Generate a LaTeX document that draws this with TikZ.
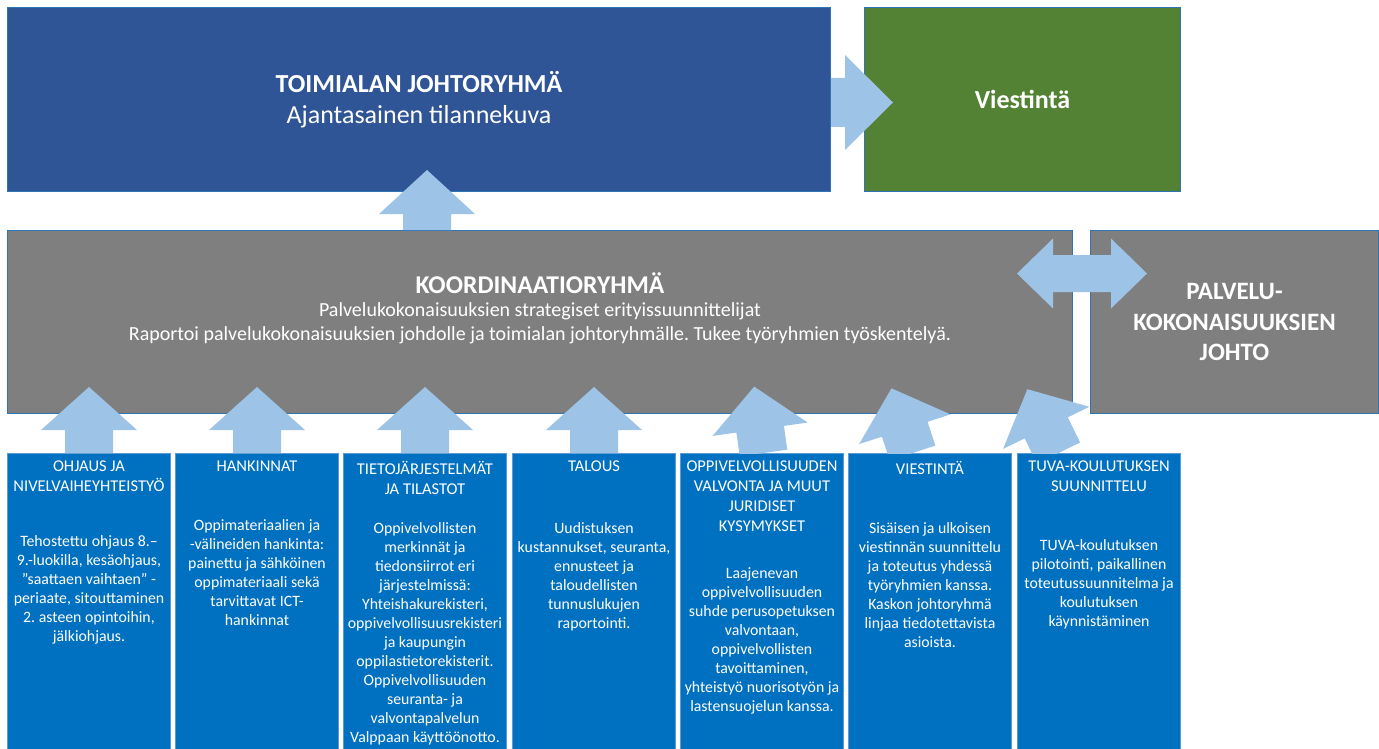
\documentclass[tikz,border=0pt]{standalone}
\usepackage{fontspec}
\setmainfont{Carlito}
\usetikzlibrary{positioning}
\frenchspacing

\definecolor{leadblue}{HTML}{2F5597}
\definecolor{commgreen}{HTML}{548235}
\definecolor{coordgray}{HTML}{7F7F7F}
\definecolor{teamblue}{HTML}{0070C0}
\definecolor{arrowblue}{HTML}{9DC3E6}
\definecolor{edgeblue}{HTML}{2E75B6}
\definecolor{teamedge}{HTML}{5B9BD5}

\tikzset{
  panel/.style={draw=edgeblue, line width=1pt, inner sep=0pt, anchor=north west,
    text=white, align=center},
  team/.style={panel, fill=teamblue, draw=teamedge, minimum width=163pt, minimum height=300pt},
  teamhead/.style={text=white, align=center, inner sep=0pt, anchor=north,
    font=\fontsize{16.5}{20}\selectfont},
  teamtext/.style={teamhead, font=\fontsize{15.8}{19}\selectfont},
}

% block arrow: #1 base, #2 angle, #3 length, #4 head length, #5 shaft width, #6 head width
\newcommand\blockarrow[6]{%
  \fill[arrowblue, shift={(#1)}, rotate=#2]
    (0,{-#5/2}) -- ({#3-#4},{-#5/2}) -- ({#3-#4},{-#6/2}) -- (#3,0)
    -- ({#3-#4},{#6/2}) -- ({#3-#4},{#5/2}) -- (0,{#5/2}) -- cycle;}

\begin{document}
\begin{tikzpicture}[x=1pt, y=-1pt]
  \clip (0,0) rectangle (1379,749);

  % upper row
  \node[panel, fill=leadblue, minimum width=823pt, minimum height=184pt,
    font=\fontsize{26}{31}\selectfont] (lead) at (7,7)
    {\textbf{TOIMIALAN JOHTORYHMÄ}\\Ajantasainen tilannekuva};
  \node[panel, fill=commgreen, minimum width=316pt, minimum height=184pt,
    font=\bfseries\fontsize{26}{30}\selectfont] (comm) at (864,7) {Viestintä};

  % middle row
  \node[panel, fill=coordgray, minimum width=1065pt, minimum height=183pt] (koord) at (7,230) {};
  \node[text=white, inner sep=0pt, font=\bfseries\fontsize{25.6}{30}\selectfont]
    (koordhead) at ([yshift=39pt]koord.center) {KOORDINAATIORYHMÄ};
  \node[text=white, inner sep=0pt, align=center, font=\fontsize{20}{24}\selectfont]
    (koordtext) at ([yshift=-1.5pt]koord.center)
    {Palvelukokonaisuuksien strategiset erityissuunnittelijat\\
     Raportoi palvelukokonaisuuksien johdolle ja toimialan johtoryhmälle. Tukee työryhmien työskentelyä.};
  \node[panel, fill=coordgray, minimum width=288pt, minimum height=183pt,
    font=\bfseries\fontsize{25}{30.5}\selectfont] (palv) at (1090,230)
    {PALVELU-\\KOKONAISUUKSIEN\\JOHTO};

  % working groups
  \node[team] (b1) at (7,453) {};
  \node[team, right=4pt of b1] (b2) {};
  \node[team, right=4pt of b2] (b3) {};
  \node[team, right=5pt of b3] (b4) {};
  \node[team, right=4pt of b4] (b5) {};
  \node[team, right=4pt of b5] (b6) {};
  \node[team, right=5pt of b6] (b7) {};

  \node[teamhead, below=8pt of b1.north] {OHJAUS JA\\NIVELVAIHEYHTEISTYÖ};
  \node[teamtext, below=82pt of b1.north] {Tehostettu ohjaus 8.–\\9.-luokilla, kesäohjaus,\\”saattaen vaihtaen” -\\periaate, sitouttaminen\\2. asteen opintoihin,\\jälkiohjaus.};
  \node[teamhead, below=8pt of b2.north] {HANKINNAT};
  \node[teamtext, below=66pt of b2.north] {Oppimateriaalien ja\\-välineiden hankinta:\\painettu ja sähköinen\\oppimateriaali sekä\\tarvittavat ICT-\\hankinnat};
  \node[teamhead, below=8pt of b3.north] {TIETOJÄRJESTELMÄT\\JA TILASTOT};
  \node[teamtext, below=69pt of b3.north] {Oppivelvollisten\\merkinnät ja\\tiedonsiirrot eri\\järjestelmissä:\\Yhteishakurekisteri,\\oppivelvollisuusrekisteri\\ja kaupungin\\oppilastietorekisterit.\\Oppivelvollisuuden\\seuranta- ja\\valvontapalvelun\\Valppaan käyttöönotto.};
  \node[teamhead, below=8pt of b4.north] {TALOUS};
  \node[teamtext, below=69pt of b4.north] {Uudistuksen\\kustannukset, seuranta,\\ennusteet ja\\taloudellisten\\tunnuslukujen\\raportointi.};
  \node[teamhead, below=8pt of b5.north] {OPPIVELVOLLISUUDEN\\VALVONTA JA MUUT\\JURIDISET\\KYSYMYKSET};
  \node[teamtext, below=114pt of b5.north] {Laajenevan\\oppivelvollisuuden\\suhde perusopetuksen\\valvontaan,\\oppivelvollisten\\tavoittaminen,\\yhteistyö nuorisotyön ja\\lastensuojelun kanssa.};
  \node[teamhead, below=8pt of b6.north] {VIESTINTÄ};
  \node[teamtext, below=69pt of b6.north] {Sisäisen ja ulkoisen\\viestinnän suunnittelu\\ja toteutus yhdessä\\työryhmien kanssa.\\Kaskon johtoryhmä\\linjaa tiedotettavista\\asioista.};
  \node[teamhead, below=8pt of b7.north] {TUVA-KOULUTUKSEN\\SUUNNITTELU};
  \node[teamtext, below=86pt of b7.north] {TUVA-koulutuksen\\pilotointi, paikallinen\\toteutussuunnitelma ja\\koulutuksen\\käynnistäminen};

  % arrows
  \blockarrow{[yshift=-3pt]lead.east}{0}{62}{48}{49}{95}
  \blockarrow{[xshift=-113pt]koord.north}{90}{60}{44}{48}{96}
  \fill[arrowblue, shift={([xshift=9pt, yshift=48.5pt]koord.east)}]
    (-65,0) -- (-29,-35) -- (-29,-18.5) -- (29,-18.5) -- (29,-35) -- (65,0)
    -- (29,35) -- (29,18.5) -- (-29,18.5) -- (-29,35) -- cycle;
  \foreach \b in {b1,b2,b3,b4}{
    \blockarrow{\b.north}{90}{66}{43}{48}{96}
  }
  \begin{scope}
    \clip (0,0) rectangle (1379,453);
    \blockarrow{[xshift=1.5pt]b5.north}{98}{67}{43}{48}{96}
    \blockarrow{[xshift=-17.5pt]b6.north}{108}{68}{43}{48}{96}
    \blockarrow{[xshift=-40.5pt]b7.north}{116}{71}{43}{48}{96}
  \end{scope}
\end{tikzpicture}
\end{document}
